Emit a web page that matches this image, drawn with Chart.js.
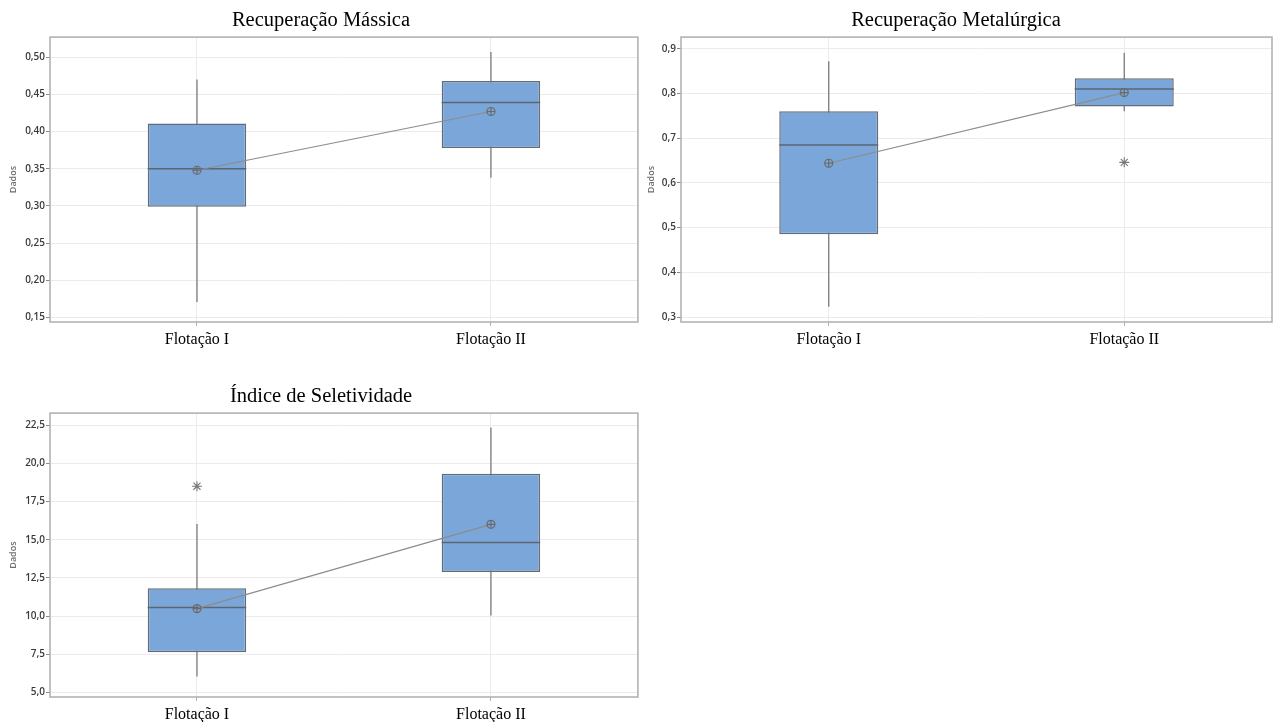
<!DOCTYPE html>
<html>
<head>
<meta charset="utf-8">
<script src="https://cdn.jsdelivr.net/npm/chart.js@4.4.1/dist/chart.umd.min.js"></script>
<style>
  body { margin: 0; background: #fff; width: 1280px; height: 722px; position: relative; overflow: hidden; }
  canvas { position: absolute; }
</style>
</head>
<body>
<canvas id="massica" width="644" height="360" style="left:0;top:0"></canvas>
<canvas id="metalurgica" width="640" height="360" style="left:640px;top:0"></canvas>
<canvas id="seletividade" width="644" height="346" style="left:0;top:376px"></canvas>
<script>
const categories = ['Flotação I', 'Flotação II'];

// Recuperação Mássica
const massMin = [0.171, 0.338];
const massQ1 = [0.299, 0.378];
const massMedian = [0.350, 0.439];
const massQ3 = [0.411, 0.468];
const massMax = [0.470, 0.507];
const massMean = [0.348, 0.427];
const massOutliers = [null, null];
const massTicks = [0.15, 0.20, 0.25, 0.30, 0.35, 0.40, 0.45, 0.50];

// Recuperação Metalúrgica
const metMin = [0.323, 0.760];
const metQ1 = [0.485, 0.771];
const metMedian = [0.685, 0.810];
const metQ3 = [0.760, 0.834];
const metMax = [0.872, 0.891];
const metMean = [0.644, 0.802];
const metOutliers = [null, 0.646];
const metTicks = [0.3, 0.4, 0.5, 0.6, 0.7, 0.8, 0.9];

// Índice de Seletividade
const selMin = [6.05, 10.04];
const selQ1 = [7.64, 12.89];
const selMedian = [10.56, 14.83];
const selQ3 = [11.83, 19.32];
const selMax = [16.03, 22.35];
const selMean = [10.49, 16.01];
const selOutliers = [18.51, null];
const selTicks = [5.0, 7.5, 10.0, 12.5, 15.0, 17.5, 20.0, 22.5];

// whiskers behind the box, median on top of it, grey frame round the plot
const boxPlugin = {
  id: 'boxplot',
  beforeDatasetsDraw(chart, args, opts) {
    const { ctx, scales: { y } } = chart;
    const bars = chart.getDatasetMeta(0).data;
    ctx.save();
    ctx.strokeStyle = '#7b7b7b';
    ctx.lineWidth = 1.3;
    bars.forEach((bar, i) => {
      ctx.beginPath();
      ctx.moveTo(bar.x, y.getPixelForValue(opts.min[i]));
      ctx.lineTo(bar.x, y.getPixelForValue(opts.max[i]));
      ctx.stroke();
    });
    ctx.restore();
  },
  afterDatasetDraw(chart, args, opts) {
    if (args.index !== 0) return;
    const { ctx, scales: { y } } = chart;
    ctx.save();
    ctx.strokeStyle = '#5c6670';
    ctx.lineWidth = 1.5;
    args.meta.data.forEach((bar, i) => {
      const py = y.getPixelForValue(opts.median[i]);
      ctx.beginPath();
      ctx.moveTo(bar.x - bar.width / 2, py);
      ctx.lineTo(bar.x + bar.width / 2, py);
      ctx.stroke();
    });
    ctx.restore();
  },
  afterDraw(chart) {
    const { ctx, chartArea: a } = chart;
    ctx.save();
    ctx.strokeStyle = '#b3b3b3';
    ctx.lineWidth = 1.6;
    ctx.strokeRect(a.left, a.top, a.right - a.left, a.bottom - a.top);
    ctx.restore();
  }
};

function fmt(v, decimals) {
  return v.toFixed(decimals).replace('.', ',');
}

function makeBoxChart(id, { title, min, q1, median, q3, max, mean, outliers, ticks, decimals, yMin, yMax, yWidth, padRight, xHeight, titlePad }) {
  return new Chart(document.getElementById(id), {
    type: 'bar',
    data: {
      labels: categories,
      datasets: [
        {
          data: categories.map((_, i) => [q1[i], q3[i]]),
          backgroundColor: '#7ba6d9',
          borderColor: '#626d78',
          borderWidth: 1.5,
          borderSkipped: false,
          barPercentage: 0.335,
          categoryPercentage: 1,
          order: 3
        },
        {
          type: 'line',
          data: mean,
          borderColor: '#8c8c8c',
          borderWidth: 1.2,
          pointStyle: 'circle',
          pointRadius: 4,
          pointBorderWidth: 1.2,
          pointBorderColor: '#6a6a6a',
          pointBackgroundColor: 'rgba(0,0,0,0)',
          order: 1
        },
        {
          type: 'line',
          data: mean,
          showLine: false,
          pointStyle: 'cross',
          pointRadius: 4,
          pointBorderWidth: 1.2,
          pointBorderColor: '#6a6a6a',
          order: 0
        },
        {
          type: 'line',
          data: outliers,
          showLine: false,
          pointStyle: 'star',
          pointRadius: 5,
          pointBorderWidth: 1.1,
          pointBorderColor: '#7a7a7a',
          order: 0
        }
      ]
    },
    options: {
      responsive: false,
      animation: false,
      layout: { padding: { left: 0, right: padRight, top: 0, bottom: 0 } },
      plugins: {
        legend: { display: false },
        tooltip: { enabled: false },
        title: {
          display: true,
          text: title,
          color: '#000',
          font: { family: 'Liberation Serif', size: 20.5, weight: 'normal', lineHeight: 1.2 },
          padding: { top: 8, bottom: 4.5 }
        },
        boxplot: { min, max, median }
      },
      scales: {
        x: {
          grid: { color: '#ebebeb', offset: false, tickLength: 4, tickColor: '#b0b0b0' },
          border: { display: false },
          ticks: { color: '#000', padding: 4, font: { family: 'Liberation Serif', size: 16 } },
          afterFit(scale) { scale.height = xHeight; }
        },
        y: {
          min: yMin,
          max: yMax,
          afterBuildTicks(scale) { scale.ticks = ticks.map(v => ({ value: v })); },
          grid: { color: '#ebebeb', tickLength: 4, tickColor: '#8a8a8a' },
          border: { display: false },
          ticks: {
            color: '#3a3a3a',
            padding: 1,
            font: { family: 'Open Sans', size: 10, weight: '600' },
            callback: v => fmt(v, decimals)
          },
          title: {
            display: true,
            text: 'Dados',
            color: '#6e6e6e',
            padding: { top: titlePad, bottom: 0 },
            font: { family: 'Open Sans', size: 9, weight: '600' }
          },
          afterFit(scale) { scale.width = yWidth; }
        }
      }
    },
    plugins: [boxPlugin]
  });
}

makeBoxChart('massica', {
  title: 'Recuperação Mássica',
  min: massMin, q1: massQ1, median: massMedian, q3: massQ3, max: massMax,
  mean: massMean, outliers: massOutliers, ticks: massTicks, decimals: 2,
  yMin: 0.144, yMax: 0.527, yWidth: 50, padRight: 2, xHeight: 38, titlePad: 8
});

makeBoxChart('metalurgica', {
  title: 'Recuperação Metalúrgica',
  min: metMin, q1: metQ1, median: metMedian, q3: metQ3, max: metMax,
  mean: metMean, outliers: metOutliers, ticks: metTicks, decimals: 1,
  yMin: 0.289, yMax: 0.926, yWidth: 41, padRight: 8, xHeight: 38, titlePad: 6
});

makeBoxChart('seletividade', {
  title: 'Índice de Seletividade',
  min: selMin, q1: selQ1, median: selMedian, q3: selQ3, max: selMax,
  mean: selMean, outliers: selOutliers, ticks: selTicks, decimals: 1,
  yMin: 4.7, yMax: 23.3, yWidth: 50, padRight: 2, xHeight: 25, titlePad: 8
});
</script>
</body>
</html>
